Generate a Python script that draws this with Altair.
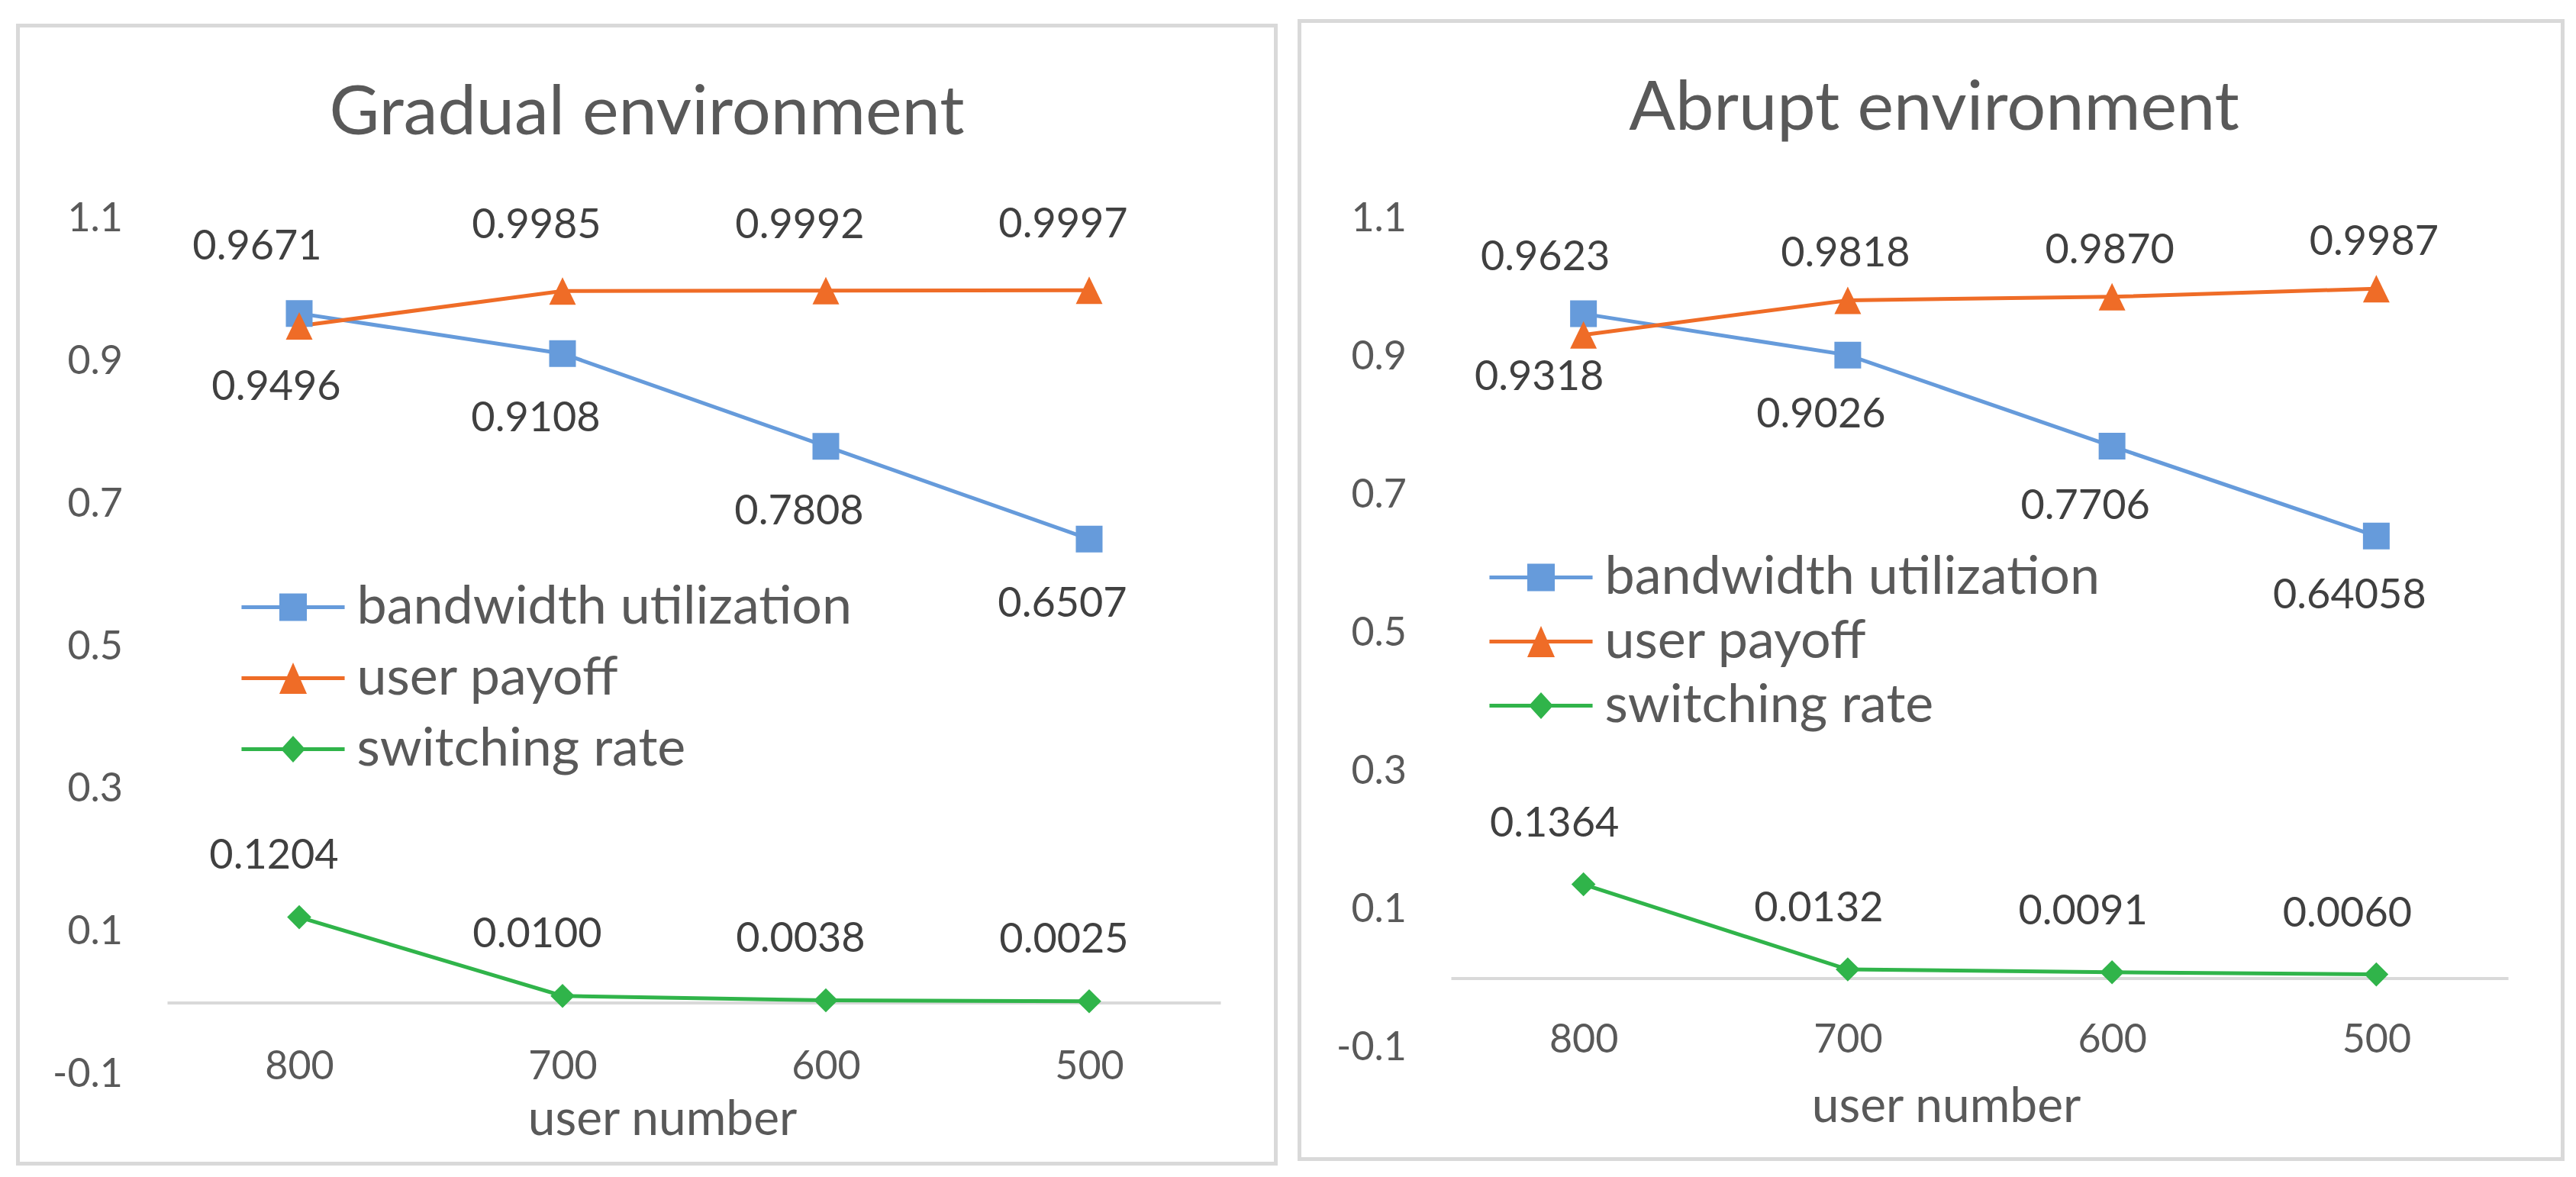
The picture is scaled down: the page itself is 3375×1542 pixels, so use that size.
import altair as alt
import pandas as pd

# ---------------- data ----------------
CATEGORIES = ["800", "700", "600", "500"]
SERIES = ["bandwidth utilization", "user payoff", "switching rate"]

GRADUAL_BANDWIDTH = [0.9671, 0.9108, 0.7808, 0.6507]
GRADUAL_PAYOFF = [0.9496, 0.9985, 0.9992, 0.9997]
GRADUAL_SWITCHING = [0.1204, 0.0100, 0.0038, 0.0025]

ABRUPT_BANDWIDTH = [0.9623, 0.9026, 0.7706, 0.64058]
ABRUPT_PAYOFF = [0.9318, 0.9818, 0.9870, 0.9987]
ABRUPT_SWITCHING = [0.1364, 0.0132, 0.0091, 0.0060]

Y_TICKS = [-0.1, 0.1, 0.3, 0.5, 0.7, 0.9, 1.1]

# ---------------- styles ----------------
COLORS = ["#669BDB", "#EF6C27", "#30B44A"]
FONT = "Lato"
AXIS_GRAY = "#595959"
LABEL_GRAY = "#404040"
FRAME_GRAY = "#D9D9D9"

# legend glyphs: a short line with the series marker on it (drawn larger than
# the nominal symbol box so that the entry rows stay compact)
LEGEND_PATHS = [
    "M-1.93,-0.071H1.93V0.071H-1.93Z M-0.515,-0.515H0.515V0.515H-0.515Z",
    "M-1.93,-0.071H1.93V0.071H-1.93Z M0,-0.586L0.515,0.586H-0.515Z",
    "M-1.93,-0.071H1.93V0.071H-1.93Z M0,-0.5L0.457,0L0,0.5L-0.457,0Z",
]
LEGEND_SYMBOL_SIZE = 4900
MARKERS = [
    ("square", 1225),
    ("M0,-1.03L1,1.03L-1,1.03Z", 1225),
    ("diamond", 1000),
]


def label_text(v):
    s = f"{v:.5f}".rstrip("0")
    if len(s.split(".")[1]) < 4:
        s = f"{v:.4f}"
    return s


def build_frame(bw, up, sw):
    rows = []
    for series, vals in zip(SERIES, [bw, up, sw]):
        for i, (cat, v) in enumerate(zip(CATEGORIES, vals)):
            if series == "switching rate":
                pos = "above"
            elif series == "bandwidth utilization":
                pos = "above" if bw[i] >= up[i] else "below"
            else:
                pos = "above" if up[i] > bw[i] else "below"
            rows.append({"users": cat, "series": series, "value": v,
                         "label": label_text(v), "pos": pos})
    return pd.DataFrame(rows)


def panel(title, df, plot_w, plot_h, frame, title_dx, title_offset,
          legend_xy, row_pad, xtitle_xy, offsets):
    color_scale = alt.Scale(domain=SERIES, range=COLORS)
    x_enc = alt.X(
        "users:N", sort=CATEGORIES,
        scale=alt.Scale(type="point", padding=0.5),
        axis=alt.Axis(title="user number", labelAngle=0, domain=False,
                      ticks=False, grid=False, labelPadding=-10,
                      labelBaseline="middle",
                      labelFontSize=52, labelColor=AXIS_GRAY, labelFont=FONT,
                      titleFontSize=64, titleColor=AXIS_GRAY, titleFont=FONT,
                      titleFontWeight="normal", titleX=xtitle_xy[0],
                      titleY=xtitle_xy[1], titleBaseline="middle"),
    )
    y_enc = alt.Y(
        "value:Q",
        scale=alt.Scale(domain=[-0.1, 1.1], nice=False, zero=False),
        axis=alt.Axis(title=None, values=Y_TICKS, domain=False, ticks=False,
                      grid=False, labelPadding=59, labelFontSize=52,
                      labelColor=AXIS_GRAY, labelFont=FONT,
                      labelExpr="datum.value < 0 ? '-' + format(-datum.value, '.1f') : format(datum.value, '.1f')"),
    )
    color_nolegend = alt.Color("series:N", scale=color_scale, legend=None)
    base = alt.Chart(df)
    one = alt.Chart(pd.DataFrame({"f": [0]}))

    layers = []
    # legend carrier first (draws nothing, only defines the legend)
    leg = alt.Legend(title=None, orient="none", legendX=legend_xy[0],
                     legendY=legend_xy[1], symbolSize=LEGEND_SYMBOL_SIZE,
                     symbolStrokeWidth=0, symbolOpacity=1, labelFontSize=70,
                     labelColor=AXIS_GRAY, labelFont=FONT, labelOffset=48.5,
                     rowPadding=row_pad, padding=0, labelLimit=2000)
    layers.append(
        base.transform_filter("false").mark_point(filled=True).encode(
            x=x_enc, y=y_enc,
            color=alt.Color("series:N", scale=color_scale, legend=leg),
            shape=alt.Shape("series:N",
                            scale=alt.Scale(domain=SERIES, range=LEGEND_PATHS),
                            legend=leg),
        )
    )
    # frame around the whole panel (four edges)
    x0, x1, y0, y1 = frame
    for ex, ex2, ey, ey2 in [(x0, x1, y0, y0), (x0, x1, y1, y1),
                             (x0, x0, y0, y1), (x1, x1, y0, y1)]:
        layers.append(
            one.mark_rule(color=FRAME_GRAY, strokeWidth=5, strokeCap="square")
            .encode(x=alt.value(ex), x2=alt.value(ex2),
                    y=alt.value(ey), y2=alt.value(ey2))
        )
    # zero baseline
    layers.append(
        one.mark_rule(color=FRAME_GRAY, strokeWidth=4).encode(y=alt.datum(0))
    )
    # lines
    layers.append(
        base.mark_line(strokeWidth=5).encode(x=x_enc, y=y_enc,
                                             color=color_nolegend)
    )
    # markers
    for s, (shape, size) in zip(SERIES, MARKERS):
        layers.append(
            base.transform_filter(alt.datum.series == s)
            .mark_point(filled=True, shape=shape, size=size, opacity=1)
            .encode(x=x_enc, y=y_enc, color=color_nolegend)
        )
    # data labels
    for (s, pos), (dx, dy) in offsets.items():
        if ((df.series == s) & (df.pos == pos)).any():
            layers.append(
                base.transform_filter(
                    (alt.datum.series == s) & (alt.datum.pos == pos))
                .mark_text(dx=dx, dy=dy, fontSize=54, font=FONT,
                           color=LABEL_GRAY, baseline="middle")
                .encode(x=x_enc, y=y_enc, text="label:N")
            )
    return alt.layer(*layers).properties(
        width=plot_w, height=plot_h,
        title=alt.TitleParams(title, fontSize=90, color=AXIS_GRAY, font=FONT,
                              fontWeight="normal", anchor="middle",
                              dx=title_dx, offset=title_offset,
                              baseline="alphabetic"),
    )


gradual_df = build_frame(GRADUAL_BANDWIDTH, GRADUAL_PAYOFF, GRADUAL_SWITCHING)
abrupt_df = build_frame(ABRUPT_BANDWIDTH, ABRUPT_PAYOFF, ABRUPT_SWITCHING)

left = panel(
    "Gradual environment", gradual_df, 1380, 1121,
    frame=(-196, 1452, -253, 1238), title_dx=-62, title_offset=-236,
    legend_xy=(129.5, 474), row_pad=23, xtitle_xy=(648, 60),
    offsets={
        ("bandwidth utilization", "above"): (-55, -87),
        ("bandwidth utilization", "below"): (-35, 86),
        ("user payoff", "above"): (-34, -85),
        ("user payoff", "below"): (-30, 81),
        ("switching rate", "above"): (-33, -80),
    },
)
right = panel(
    "Abrupt environment", abrupt_df, 1385, 1086,
    frame=(-199, 1456, -259, 1232), title_dx=-60, title_offset=-236,
    legend_xy=(82.5, 435), row_pad=14, xtitle_xy=(648, 78),
    offsets={
        ("bandwidth utilization", "above"): (-50, -73),
        ("bandwidth utilization", "below"): (-35, 79),
        ("user payoff", "above"): (-3, -60),
        ("user payoff", "below"): (-58, 56),
        ("switching rate", "above"): (-38, -79),
    },
)

chart = (
    alt.hconcat(left, right, spacing=23,
                padding={"left": 11.5, "top": 15.5, "right": 5, "bottom": 5})
    .resolve_scale(color="independent", shape="independent",
                   x="independent", y="independent")
    .resolve_legend(color="independent", shape="independent")
    .configure(font=FONT)
    .configure_view(stroke="transparent", strokeWidth=0)
)

chart.save("out.html", embed_options={"renderer": "svg", "actions": False})
